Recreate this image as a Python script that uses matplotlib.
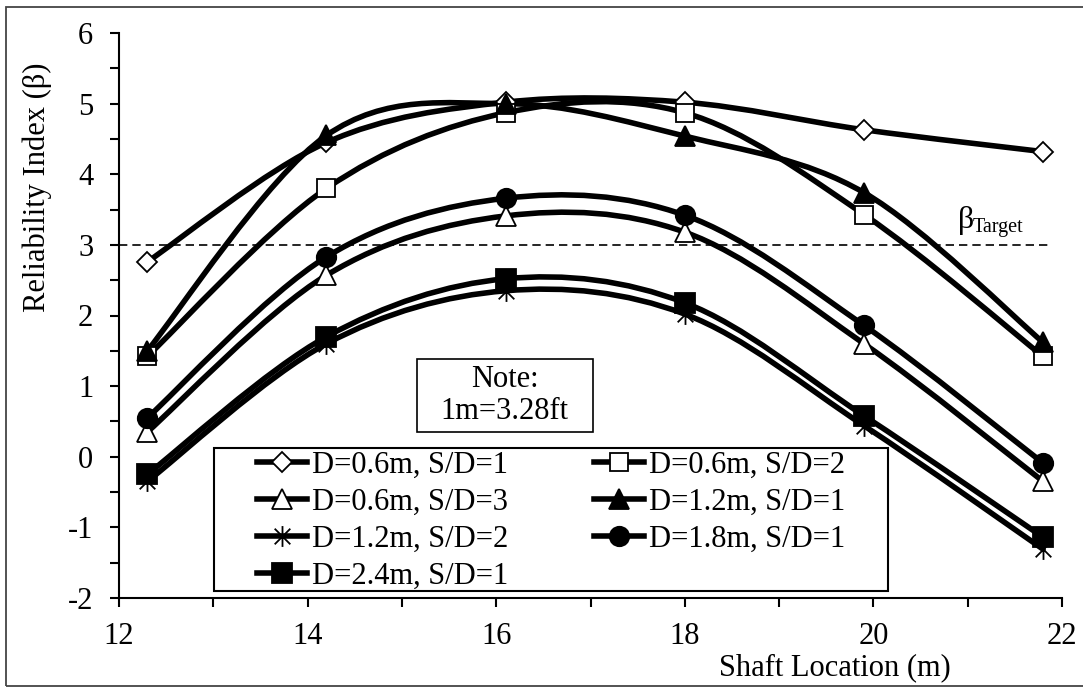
import numpy as np
import matplotlib
matplotlib.use("Agg")
import matplotlib.pyplot as plt
from matplotlib.path import Path
from matplotlib.patches import PathPatch, Rectangle
from matplotlib.lines import Line2D

# ---------------- data ----------------
shaft_x = [12.3, 14.2, 16.1, 18.0, 19.9, 21.8]
d06_sd1 = [2.76, 4.45, 5.02, 5.02, 4.63, 4.32]
d06_sd2 = [1.42, 3.80, 4.87, 4.87, 3.43, 1.42]
d06_sd3 = [0.35, 2.57, 3.41, 3.18, 1.60, -0.35]
d12_sd1 = [1.50, 4.55, 5.00, 4.54, 3.74, 1.62]
d12_sd2 = [-0.35, 1.60, 2.35, 2.02, 0.44, -1.31]
d18_sd1 = [0.55, 2.83, 3.66, 3.42, 1.86, -0.09]
d24_sd1 = [-0.25, 1.70, 2.52, 2.18, 0.58, -1.14]

series_labels = ["D=0.6m, S/D=1", "D=0.6m, S/D=2", "D=0.6m, S/D=3",
                 "D=1.2m, S/D=1", "D=1.2m, S/D=2", "D=1.8m, S/D=1",
                 "D=2.4m, S/D=1"]
beta_target = [3.0, 3.0]
target_x = [12.0, 21.85]

x_ticks = [12, 14, 16, 18, 20, 22]
y_ticks = [-2, -1, 0, 1, 2, 3, 4, 5, 6]

# ---------------- style ----------------
FONT = "Liberation Serif"
FS = 22
plt.rcParams["font.family"] = [FONT, "DejaVu Serif"]
plt.rcParams["axes.unicode_minus"] = False

star_path = Path([(0, -1), (0, 1), (-0.75, -0.75), (0.75, 0.75),
                  (-0.75, 0.75), (0.75, -0.75)],
                 [Path.MOVETO, Path.LINETO, Path.MOVETO, Path.LINETO,
                  Path.MOVETO, Path.LINETO])

styles = [
    dict(marker="D", ms=10, mfc="white"),
    dict(marker="s", ms=13, mfc="white"),
    dict(marker="^", ms=14, mfc="white"),
    dict(marker="^", ms=14, mfc="black"),
    dict(marker=star_path, ms=15, mfc="black"),
    dict(marker="o", ms=14, mfc="black"),
    dict(marker="s", ms=14, mfc="black"),
]
all_series = [d06_sd1, d06_sd2, d06_sd3, d12_sd1, d12_sd2, d18_sd1, d24_sd1]

LW = 4.0


def smooth_path(xs, ys):
    P = np.column_stack([xs, ys]).astype(float)
    n = len(P)
    verts = [P[0]]
    codes = [Path.MOVETO]
    for i in range(n - 1):
        p0 = P[i - 1] if i > 0 else P[i]
        p3 = P[i + 2] if i + 2 < n else P[i + 1]
        c1 = P[i] + (P[i + 1] - p0) / 6.0
        c2 = P[i + 1] - (p3 - P[i]) / 6.0
        verts += [c1, c2, P[i + 1]]
        codes += [Path.CURVE4] * 3
    return Path(verts, codes)


W, H = 1083, 687
fig = plt.figure(figsize=(W / 100, H / 100), dpi=100)

# outer border
fig.patches.append(Rectangle((6 / W, 1 / H), 1.5, 1 - 8 / H,
                             transform=fig.transFigure, fill=False,
                             edgecolor="#444444", lw=1.3))

ax = fig.add_axes([119 / W, 1 - 598 / H, 943 / W, 565 / H])
ax.set_xlim(12, 22)
ax.set_ylim(-2, 6)

for s in ["top", "right"]:
    ax.spines[s].set_visible(False)
for s in ["left", "bottom"]:
    ax.spines[s].set_linewidth(1.5)

ax.set_xticks(x_ticks)
ax.set_yticks(y_ticks)
ax.set_xticks([13, 15, 17, 19, 21], minor=True)
ax.set_yticks(np.arange(-1.5, 6, 1.0), minor=True)
ax.tick_params(which="both", direction="out", width=1.5, length=6.5)
ax.tick_params(axis="y", which="major", pad=12, labelsize=FS)
ax.tick_params(axis="x", which="major", pad=11, labelsize=FS)
for lab in ax.get_xticklabels() + ax.get_yticklabels():
    lab.set_fontfamily(FONT)

# target line
ax.plot(target_x, beta_target, color="black", lw=1.2,
        linestyle=(0, (5, 3)), zorder=1)
ax.annotate("β", xy=(20.9, 3.0), xytext=(0, 7), textcoords="offset points",
            fontsize=FS + 1, ha="left", va="bottom", fontfamily=FONT)
ax.annotate("Target", xy=(20.9, 3.0), xytext=(10.5, 6),
            textcoords="offset points", fontsize=14.5, ha="left",
            va="bottom", fontfamily=FONT)

handles = []
for ys, st, lab in zip(all_series, styles, series_labels):
    ax.add_patch(PathPatch(smooth_path(shaft_x, ys), fill=False,
                           edgecolor="black", lw=LW, capstyle="round",
                           joinstyle="round", zorder=2))
    ax.plot(shaft_x, ys, linestyle="none", marker=st["marker"],
            markersize=st["ms"], markerfacecolor=st["mfc"],
            markeredgecolor="black", markeredgewidth=1.3, zorder=3,
            clip_on=False)
    handles.append(Line2D([], [], color="black", lw=LW,
                          marker=st["marker"], markersize=st["ms"],
                          markerfacecolor=st["mfc"],
                          markeredgecolor="black", markeredgewidth=1.3))

# legend laid out row-wise (matplotlib fills column-wise)
order = [0, 2, 4, 6, 1, 3, 5]
leg = ax.legend([handles[i] for i in order],
                [series_labels[i] for i in order],
                ncol=2, loc="upper left", bbox_to_anchor=(0.1463, 0.261),
                frameon=False, handlelength=1.65,
                handletextpad=0.15, columnspacing=2.8, labelspacing=0.26,
                borderpad=0, borderaxespad=0,
                prop={"family": FONT, "size": FS})
ax.add_patch(Rectangle((0.1007, 0.013), 0.7148, 0.2525,
                       transform=ax.transAxes, fill=False,
                       edgecolor="black", lw=1.5, zorder=4, clip_on=False))
ax.add_patch(Rectangle((0.1007, 0.013), 0.7148, 0.2525,
                       transform=ax.transAxes, facecolor="white",
                       edgecolor="none", zorder=2.5, clip_on=False))
leg.set_zorder(5)

# note box
ax.add_patch(Rectangle((0.3157, 0.2938), 0.1866, 0.1292,
                       transform=ax.transAxes, facecolor="white",
                       edgecolor="black", lw=1.2, zorder=4))
ax.text(0.409, 0.358, "Note:\n1m=3.28ft", transform=ax.transAxes,
        ha="center", va="center", fontsize=FS, fontfamily=FONT,
        linespacing=1.15, zorder=5)

ax.set_xlabel("Shaft Location (m)", fontsize=FS, fontfamily=FONT)
ax.xaxis.set_label_coords((835 - 119) / 943, -(653 - 598) / 565)
ax.set_ylabel("Reliability Index (β)", fontsize=FS, fontfamily=FONT)
ax.yaxis.set_label_coords((52 - 119) / 943, (598 - 187) / 565)

fig.savefig("out.png", dpi=100)
